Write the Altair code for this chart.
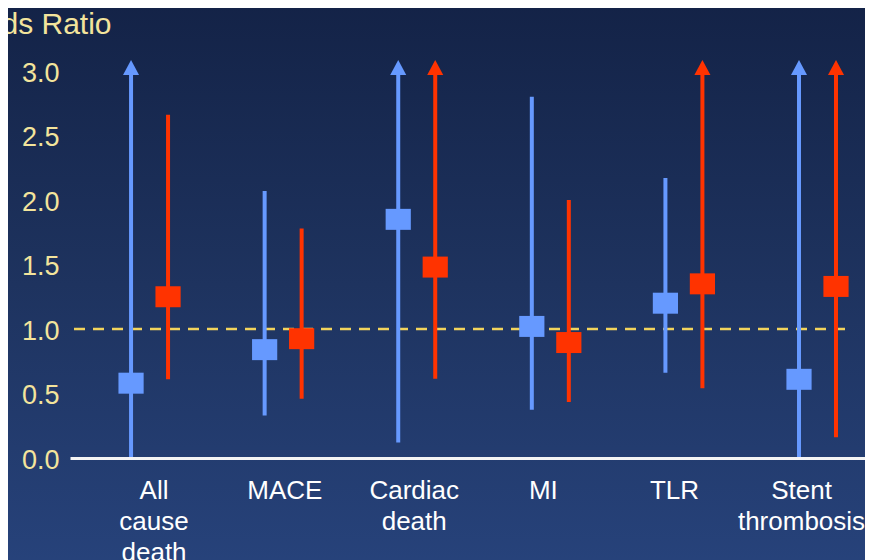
import altair as alt
import pandas as pd

# ---- data ----
categories = ["All cause death", "MACE", "Cardiac death", "MI", "TLR", "Stent thrombosis"]
series = ["Group A", "Group B"]
colors = ["#6699FF", "#FF3300"]

est_a = [0.58, 0.84, 1.85, 1.02, 1.20, 0.61]
lo_a = [0.00, 0.33, 0.12, 0.375, 0.66, 0.00]
hi_a = [None, 2.07, None, 2.80, 2.17, None]   # None = beyond the axis (arrow)

est_b = [1.25, 0.925, 1.48, 0.895, 1.35, 1.33]
lo_b = [0.61, 0.46, 0.615, 0.435, 0.54, 0.16]
hi_b = [2.66, 1.78, None, 2.00, None, None]

y_ticks = [0.0, 0.5, 1.0, 1.5, 2.0, 2.5, 3.0]
reference = [1.0]
y_max = 3.0

# small horizontal nudges of the category labels (px), as on the slide
label_nudge = [4.5, 1.7, -2.5, -7.0, -9.4, -16.0]

rows = []
for s, est, lo, hi in [(series[0], est_a, lo_a, hi_a), (series[1], est_b, lo_b, hi_b)]:
    for c, e, l, h in zip(categories, est, lo, hi):
        rows.append(dict(cat=c, series=s, est=e, lo=l,
                         hi=y_max if h is None else h, arrow=h is None))
df = pd.DataFrame(rows)

W, H = 795, 387
FONT = "Liberation Sans"
YEL = "#F3E49C"

y_scale = alt.Scale(domain=[0, y_max], nice=False)
y_axis = alt.Axis(values=y_ticks, format=".1f", domain=False, ticks=False, tickSize=0,
                  grid=False, labelColor=YEL, labelFontSize=27, labelPadding=11,
                  labelOffset=2, labelFont=FONT, title="Odds Ratio", titleAngle=0,
                  titleAlign="right", titleBaseline="alphabetic", titleX=41, titleY=-38,
                  titleColor=YEL, titleFontSize=30, titleFontWeight="normal",
                  titleFont=FONT, zindex=1)

label_offset = {
    "condition": [{"test": f"datum.value == '{c}'", "value": n}
                  for c, n in zip(categories, label_nudge)],
    "value": 0,
}

x_enc = alt.X("cat:N", sort=categories,
              scale=alt.Scale(paddingInner=0.5, paddingOuter=0.2255, align=0.766),
              axis=alt.Axis(title=None, domainColor="#F4F4F4", domainWidth=3, ticks=False,
                            labelColor="white", labelFontSize=26, labelLineHeight=31,
                            labelPadding=19, labelExpr="split(datum.label, ' ')",
                            labelOffset=label_offset,
                            labelAngle=0, labelOverlap=False, labelFlush=False,
                            labelLimit=400, labelFont=FONT, grid=False, zindex=1))
xo_enc = alt.XOffset("series:N", sort=series,
                     scale=alt.Scale(paddingInner=0.5, paddingOuter=0.1527))
color_enc = alt.Color("series:N", sort=series,
                      scale=alt.Scale(domain=series, range=colors), legend=None)

grad = alt.Gradient(gradient="linear", x1=0, x2=0, y1=0, y2=1,
                    stops=[alt.GradientStop(color="#132246", offset=0),
                           alt.GradientStop(color="#1E335F", offset=0.5),
                           alt.GradientStop(color="#27437C", offset=1)])

bg = alt.Chart(pd.DataFrame({"k": [0]})).mark_rect(fill=grad, stroke=None).encode(
    x=alt.value(-80), x2=alt.value(W + 30), y=alt.value(-80), y2=alt.value(H + 120))

ref = alt.Chart(pd.DataFrame({"y": reference})).mark_rule(
    color="#F2D45C", strokeDash=[11, 8], strokeWidth=2.5).encode(
    y=alt.Y("y:Q", scale=y_scale, axis=y_axis), x=alt.value(4), x2=alt.value(W - 14))

base = alt.Chart(df)

rules = base.mark_rule(strokeWidth=4).encode(
    x=x_enc, xOffset=xo_enc,
    y=alt.Y("lo:Q", scale=y_scale, axis=y_axis), y2="hi:Q", color=color_enc)

arrows = base.transform_filter("datum.arrow").mark_point(
    shape="M0,-1L1.07,1L-1.07,1Z", filled=True, size=225, opacity=1, yOffset=-3.5).encode(
    x=x_enc, xOffset=xo_enc, y=alt.Y("hi:Q", scale=y_scale, axis=y_axis), color=color_enc)

points = base.mark_point(
    shape="M-1.2,-1L1.2,-1L1.2,1L-1.2,1Z", filled=True, size=441, opacity=1).encode(
    x=x_enc, xOffset=xo_enc, y=alt.Y("est:Q", scale=y_scale, axis=y_axis), color=color_enc)

chart = alt.layer(bg, ref, rules, arrows, points).properties(
    width=W, height=H,
    padding={"left": 62, "top": 63, "right": 0, "bottom": 102},
    autosize=alt.AutoSizeParams(type="none"),
).configure(background="#1D3160", font=FONT).configure_view(stroke=None)

chart.save("out.html", embed_options={"renderer": "svg", "actions": False})
